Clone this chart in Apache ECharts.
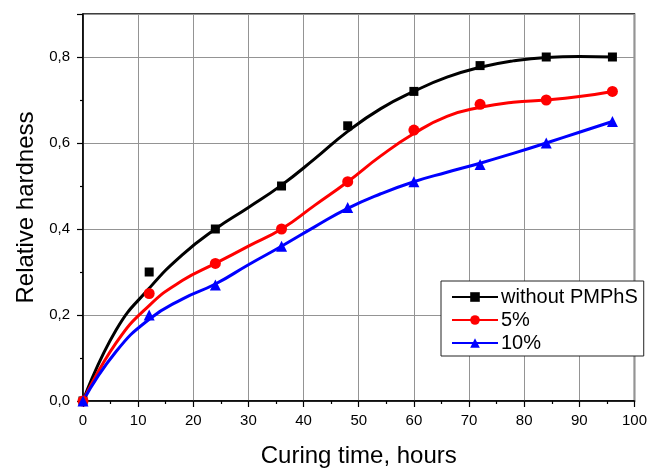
<!DOCTYPE html>
<html>
<head>
<meta charset="utf-8">
<script src="https://cdn.jsdelivr.net/npm/echarts@6/dist/echarts.min.js"></script>
<style>
  html, body { margin: 0; padding: 0; background: #fff; }
  #main { width: 650px; height: 473px; }
</style>
</head>
<body>
<div id="main"></div>
<script>
//----------- Data
const names = ["without PMPhS", "5%", "10%"];
const colors = ["#000000", "#ff0000", "#0000ff"];
const symbols = ["rect", "circle", "triangle"];
const symbolSizes = [9, 11, 11];

// measured points
const hours = [0, 12, 24, 36, 48, 60, 72, 84, 96];
const without = [0, 0.30, 0.40, 0.50, 0.64, 0.72, 0.78, 0.80, 0.80];
const five = [0, 0.25, 0.32, 0.40, 0.51, 0.63, 0.69, 0.70, 0.72];
const ten = [0, 0.20, 0.27, 0.36, 0.45, 0.51, 0.55, 0.60, 0.65];

// fitted curves, read every 6 hours
const curveHours = [0, 6, 12, 18, 24, 30, 36, 42, 48, 54, 60, 66, 72, 78, 84, 90, 96];
const withoutFit = [0, 0.165, 0.262, 0.34, 0.40, 0.45, 0.502, 0.563, 0.627, 0.68, 0.72, 0.753, 0.776, 0.791, 0.799, 0.801, 0.80];
const fiveFit = [0, 0.135, 0.222, 0.28, 0.32, 0.36, 0.40, 0.455, 0.51, 0.57, 0.622, 0.662, 0.683, 0.695, 0.70, 0.708, 0.72];
const tenFit = [0, 0.115, 0.19, 0.237, 0.272, 0.317, 0.36, 0.405, 0.448, 0.482, 0.51, 0.532, 0.553, 0.576, 0.60, 0.625, 0.65];
//----------- Data

const points = [without, five, ten];
const fits = [withoutFit, fiveFit, tenFit];
const font = "Liberation Sans";

const myChart = echarts.init(document.getElementById("main"));

//curves carry the legend entries, scatter carries the markers
const curveSeries = names.map((name, i) => ({
    name: name,
    type: "line",
    smooth: 0.5,
    symbol: symbols[i],
    showSymbol: false,
    z: 3,
    color: colors[i],
    lineStyle: { color: colors[i], width: 3 },
    itemStyle: { color: colors[i] },
    data: curveHours.map((h, k) => [h, fits[i][k]])
}));
const markerSeries = names.map((name, i) => ({
    name: name + " points",
    type: "scatter",
    symbol: symbols[i],
    symbolSize: symbolSizes[i],
    z: 4,
    itemStyle: { color: colors[i], opacity: 1 },
    data: hours.map((h, k) => [h, points[i][k]])
}));

const option = {
    animation: false,
    grid: {
        left: 83,
        top: 14,
        width: 553,
        height: 393,
        show: true,
        borderColor: "#000",
        borderWidth: 1.5,
        backgroundColor: "transparent"
    },
    legend: {
        data: names,
        orient: "vertical",
        left: 441,
        top: 281,
        padding: [6, 6, 3, 10],
        itemGap: 3,
        itemWidth: 46,
        itemHeight: 12,
        backgroundColor: "#fff",
        borderColor: "#222",
        borderWidth: 1,
        textStyle: { fontFamily: font, fontSize: 20, color: "#000", padding: [0, 0, 0, -2] }
    },
    xAxis: {
        type: "value",
        min: 0,
        max: 100,
        interval: 10,
        name: "Curing time, hours",
        nameLocation: "middle",
        nameGap: 43,
        nameTextStyle: { fontFamily: font, fontSize: 24, color: "#000" },
        axisLine: { show: true, lineStyle: { color: "#000", width: 1.5 } },
        axisTick: { show: true, inside: false, length: 6, lineStyle: { color: "#000", width: 1.2 } },
        minorTick: { show: true, splitNumber: 2, length: 3, lineStyle: { color: "#000", width: 1.2 } },
        axisLabel: { fontFamily: font, fontSize: 15, color: "#000", margin: 12 },
        splitLine: { show: true, lineStyle: { color: "#949494", width: 1 } }
    },
    yAxis: {
        type: "value",
        min: 0,
        max: 0.9,
        interval: 0.2,
        name: "Relative hardness",
        nameLocation: "middle",
        nameGap: 45,
        nameTextStyle: { fontFamily: font, fontSize: 24, color: "#000" },
        axisLine: { show: true, lineStyle: { color: "#000", width: 1.5 } },
        axisTick: { show: true, inside: false, length: 6, lineStyle: { color: "#000", width: 1.2 } },
        minorTick: { show: true, splitNumber: 2, length: 3, lineStyle: { color: "#000", width: 1.2 } },
        axisLabel: {
            fontFamily: font,
            fontSize: 15,
            color: "#000",
            margin: 13,
            showMaxLabel: false,
            formatter: v => v.toFixed(1).replace(".", ",")
        },
        splitLine: { show: true, lineStyle: { color: "#949494", width: 1 } }
    },
    series: curveSeries.concat(markerSeries)
};

myChart.setOption(option);
</script>
</body>
</html>
